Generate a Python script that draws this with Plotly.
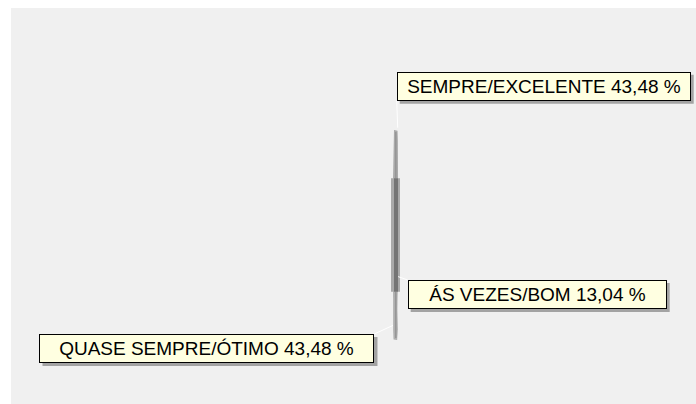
import numpy as np
import plotly.graph_objects as go

# Survey answers and their shares (%)
categories = ["SEMPRE/EXCELENTE", "ÁS VEZES/BOM", "QUASE SEMPRE/ÓTIMO"]
percent = [43.48, 13.04, 43.48]
slice_colors = ["#aaaaaa", "#a0a0a0", "#b0b0b0"]

label_text = [f"{c} {p:.2f} %".replace(".", ",") for c, p in zip(categories, percent)]

# Canvas / pie geometry (pixel-like coordinates, y grows downward)
W, H = 696, 404
PANEL_X0, PANEL_Y0 = 11, 8
CX, CY = 395.5, 235.0      # pie centre
R = 105.0                  # pie radius (vertical)
A = 2.6                    # horizontal semi-axis: pie seen almost edge-on
START = -67.6              # rotation of the first slice, degrees clockwise from top


def project(theta_deg, rad=1.0):
    t = np.radians(theta_deg)
    s = np.sin(t)
    x = CX + A * rad * np.sign(s) * np.abs(s) ** 0.12
    y = CY - R * rad * np.cos(t)
    return x, y


fig = go.Figure()

total = sum(percent)
edges = START + 360.0 * np.concatenate([[0.0], np.cumsum(percent)]) / total

# Pie wedges
for i, col in enumerate(slice_colors):
    th = np.linspace(edges[i], edges[i + 1], 300)
    xs, ys = project(th)
    fig.add_trace(go.Scatter(
        x=np.concatenate([[CX], xs, [CX]]),
        y=np.concatenate([[CY], ys, [CY]]),
        mode="lines", fill="toself", fillcolor=col,
        line=dict(width=0), hoverinfo="skip", showlegend=False))

# Shading along the disc edge
fig.add_trace(go.Scatter(
    x=[CX + 0.3, CX + 0.3], y=[CY - R + 2, CY + R - 2], mode="lines",
    line=dict(color="#969696", width=1.5), hoverinfo="skip", showlegend=False))

# Visible rim of the disc (darker band around the centre)
rim_half = 0.54 * R
for x0, x1, col in [(CX - 4.5, CX + 4.5, "#a9a9a9"), (CX - 1.5, CX + 2.5, "#747474")]:
    fig.add_trace(go.Scatter(
        x=[x0, x1, x1, x0, x0],
        y=[CY - rim_half, CY - rim_half, CY + rim_half, CY + rim_half, CY - rim_half],
        mode="lines", fill="toself", fillcolor=col, line=dict(width=0),
        hoverinfo="skip", showlegend=False))

# Label placement: offset of the box corner from the leader start, and box anchors
label_offset = [(-1, -27), (9.5, 3.4), (-18.5, 8.5)]
label_anchor = [("left", "bottom"), ("left", "top"), ("right", "top")]
box_width = [288, 253, 329]
BOX_H, PAD, BORDER, SHADOW = 23, 2, 1, 3

mids = (edges[:-1] + edges[1:]) / 2.0
for i, m in enumerate(mids):
    px, py = project(m, 1.04)
    bx, by = px + label_offset[i][0], py + label_offset[i][1]
    # leader line
    fig.add_trace(go.Scatter(
        x=[px, bx], y=[py, by], mode="lines",
        line=dict(color="white", width=1), hoverinfo="skip", showlegend=False))
    xa, ya = label_anchor[i]
    # drop shadow behind the label box
    bw = box_width[i] + 2 * (PAD + BORDER)
    bh = BOX_H + 2 * (PAD + BORDER)
    left = bx if xa == "left" else bx - bw
    top = by if ya == "top" else by - bh
    fig.add_shape(type="rect", xref="x", yref="y",
                  x0=left + SHADOW, x1=left + bw + SHADOW,
                  y0=top + SHADOW, y1=top + bh + SHADOW,
                  fillcolor="#a3a3a3", line=dict(width=0), layer="above")
    # label box
    fig.add_annotation(x=bx, y=by, text=label_text[i], xref="x", yref="y",
                       xanchor=xa, yanchor=ya, showarrow=False,
                       width=box_width[i], height=BOX_H, borderpad=PAD,
                       borderwidth=BORDER, align="center",
                       font=dict(family="Liberation Sans, Arial", size=19, color="#000000"),
                       bgcolor="#ffffe1", bordercolor="#000000")

fig.update_layout(
    width=W, height=H, autosize=False,
    margin=dict(l=0, r=0, t=0, b=0),
    paper_bgcolor="white", plot_bgcolor="#f0f0f0",
    xaxis=dict(range=[PANEL_X0, W], domain=[PANEL_X0 / W, 1], visible=False, fixedrange=True),
    yaxis=dict(range=[H, PANEL_Y0], domain=[0, (H - PANEL_Y0) / H], visible=False, fixedrange=True),
    showlegend=False,
)

fig.write_html("out.html")
